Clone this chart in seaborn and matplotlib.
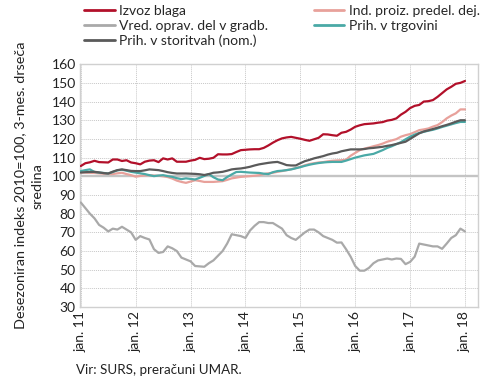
import numpy as np
import pandas as pd
import matplotlib
matplotlib.use("Agg")
import matplotlib.pyplot as plt
import seaborn as sns

months = pd.date_range("2011-01-01", "2018-01-01", freq="MS")
tick_labels = ["jan. 11", "jan. 12", "jan. 13", "jan. 14", "jan. 15", "jan. 16", "jan. 17", "jan. 18"]

izvoz = [105.5, 107, 107.5, 108.3, 107.6, 107.5, 107.4, 109, 109, 108.2, 108.6, 107.4,
         107, 106.4, 107.8, 108.4, 108.6, 107.6, 109.6, 109, 109.6, 107.8, 107.8, 107.8,
         108.4, 108.8, 109.9, 109.2, 109.4, 109.9, 111.8, 111.7, 111.7, 111.9, 113, 114,
         114.2, 114.4, 114.5, 114.5, 115.2, 116.5, 118, 119.3, 120.3, 120.8, 121.1, 120.6,
         120.1, 119.5, 119, 119.8, 120.6, 122.5, 122.4, 122, 121.7, 123.3, 123.8, 125,
         126.5, 127.3, 127.9, 128.1, 128.3, 128.7, 129, 129.8, 130.2, 131, 133, 134.5,
         136.5, 137.7, 138.2, 140, 140.2, 140.8, 142.5, 144.5, 146.5, 147.9, 149.5, 150, 151]

ind_proiz = [102.1, 102, 101.9, 101.8, 101.6, 101.4, 101.3, 101.2, 101.6, 101.9, 101.2, 100.6,
             99.8, 100.2, 100.5, 100.6, 100.4, 100.3, 100, 99.6, 98.8, 97.7, 97, 96.5,
             97.2, 97.9, 97.5, 97, 97, 97, 97.2, 97.4, 98.1, 98.9, 99.3, 99.7,
             99.9, 100.1, 100.3, 100.6, 101.2, 101.6, 101.9, 102.4, 102.8, 103.3, 103.8, 104.4,
             105.1, 105.9, 106.6, 107, 107.4, 107.6, 108, 108.3, 108.5, 108.6, 108.9, 111,
             112.5, 114, 114.8, 115.4, 116.1, 116.7, 117.5, 118.5, 119.2, 119.9, 121.2, 122,
             122.6, 123.6, 124.7, 125.1, 125.6, 126.6, 127.4, 129, 131, 132.5, 133.7, 135.8, 135.8]

gradb = [86, 83, 80, 77.5, 74, 72.5, 70.5, 72, 71.5, 73, 71.5, 70,
         66, 68, 67, 66.2, 61, 59, 59.5, 62.5, 61.5, 60, 56.5, 55.5,
         54.5, 52, 51.8, 51.6, 53.5, 55, 57.5, 60, 64, 69, 68.5, 68,
         67, 71, 73.5, 75.5, 75.5, 75, 75, 73.5, 72, 68.5, 67, 66,
         68, 70, 71.5, 71.5, 70, 68, 67, 66, 64.5, 64.6, 61, 57,
         52, 49.5, 49.5, 51, 53.5, 55, 55.5, 56, 55.5, 56, 55.8, 53,
         54.2, 57, 64, 63.5, 63, 62.5, 62.5, 61.2, 64, 67, 68.5, 72, 70.5]

trgovina = [102.8, 103.3, 103.7, 102.3, 102, 101.8, 101.5, 102.3, 103.2, 103.5, 103, 102.4,
            102, 101.6, 101.2, 100.6, 100.1, 100.4, 100.6, 100.1, 99.7, 99, 98.5, 98.9,
            98.6, 98.3, 99.2, 100.2, 101.2, 99.5, 98.3, 97.9, 99.6, 101, 102.3, 102.4,
            102.2, 102, 101.9, 101.8, 101.4, 101.2, 102.2, 102.8, 103, 103.3, 103.7, 104.3,
            104.9, 105.6, 106.2, 106.7, 107.1, 107.4, 107.6, 107.7, 107.7, 107.7, 108.4, 109.2,
            110, 110.6, 111.2, 111.6, 112, 113, 114, 115.2, 116.1, 117.2, 118.3, 119.8,
            121.2, 122.3, 123.2, 123.8, 124.4, 124.9, 125.6, 126.4, 127.1, 127.8, 128.5, 129.1, 129.1]

storitve = [102, 102.2, 102.3, 102.4, 102.1, 101.7, 101.5, 102.5, 103.3, 103.7, 103.3, 102.9,
            102.8, 102.8, 103.2, 103.7, 103.5, 103.3, 102.8, 102.2, 101.8, 101.5, 101.5, 101.5,
            101.4, 101.3, 101.1, 100.7, 101.2, 101.9, 102.1, 102.4, 103, 103.7, 104, 104.2,
            104.6, 105.1, 105.8, 106.4, 106.8, 107.2, 107.5, 107.7, 106.9, 106, 105.8, 105.8,
            107, 108.1, 108.8, 109.6, 110.2, 110.8, 111.6, 112.2, 112.6, 113.4, 113.9, 114.4,
            114.4, 114.4, 114.6, 115, 115.2, 115.5, 115.8, 116.3, 116.7, 117.3, 117.9, 118.5,
            120, 121.5, 123, 124, 124.6, 125.3, 126, 126.8, 127.5, 128.3, 129.2, 130, 130]

names = ["Izvoz blaga", "Ind. proiz. predel. dej.", "Vred. oprav. del v gradb.",
         "Prih. v trgovini", "Prih. v storitvah (nom.)"]
series = [izvoz, ind_proiz, gradb, trgovina, storitve]
colors = {"Izvoz blaga": "#b2102a",
          "Ind. proiz. predel. dej.": "#e8a19b",
          "Vred. oprav. del v gradb.": "#a9a9a9",
          "Prih. v trgovini": "#4aa9a6",
          "Prih. v storitvah (nom.)": "#5a5a5a"}

idx = np.arange(len(months))
df = pd.concat([pd.DataFrame({"m": idx, "val": s, "serija": n}) for n, s in zip(names, series)],
               ignore_index=True)

sns.set_style("white")
plt.rcParams["font.family"] = ["Lato", "DejaVu Sans"]

FS = 10
fig = plt.figure(figsize=(4.9, 3.82), dpi=100)
ax = fig.add_axes([0.163, 0.196, 0.813, 0.636])

ax.axhline(100, color="#c4c4c4", lw=1.7, zorder=1)
sns.lineplot(data=df, x="m", y="val", hue="serija", hue_order=names, palette=colors,
             linewidth=1.6, ax=ax, legend=False, zorder=3)

ax.set_xlim(-0.2, 86.9)
ax.set_ylim(30, 160)
ax.set_yticks(range(30, 161, 10))
ax.set_xticks(np.arange(0, 85, 12))
ax.set_xticklabels(tick_labels, rotation=90)
ax.tick_params(axis="both", labelsize=FS, length=0, pad=3, colors="#222222")
ax.grid(True, color="#c8c8c8", linestyle=(0, (1, 1)), linewidth=0.7)
for sp in ax.spines.values():
    sp.set_color("#d0d0d0")
    sp.set_linewidth(1.0)
ax.set_xlabel("")
ax.set_ylabel("Desezoniran indeks 2010=100, 3-mes. drseča\nsredina", fontsize=10.4, color="#222222",
              labelpad=6, linespacing=1.5)

lines = {n: plt.Line2D([], [], color=colors[n], lw=2) for n in names}
order = [names[0], names[2], names[4], names[1], names[3]]
fig.legend([lines[n] for n in order], order, loc="upper left", bbox_to_anchor=(0.155, 1.01),
           ncol=2, frameon=False, fontsize=FS, handlelength=2.2, handletextpad=0.3,
           columnspacing=3.3, labelspacing=0.22, borderaxespad=0.2)

fig.text(0.155, 0.02, "Vir: SURS, preračuni UMAR.", fontsize=9.6, color="#222222")

fig.savefig("out.png", dpi=100)
